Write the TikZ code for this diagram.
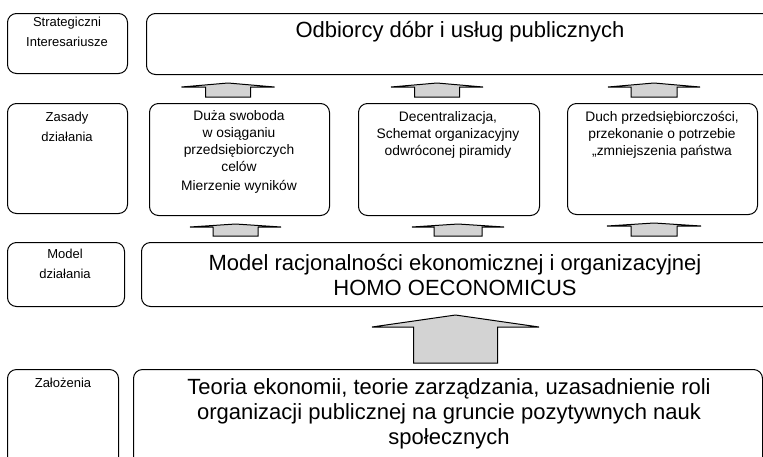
\documentclass[tikz,border=0pt]{standalone}
\usepackage{fontspec}
\setmainfont{Liberation Sans}
\usetikzlibrary{calc,positioning}
\definecolor{arrowgray}{RGB}{211,211,211}

\tikzset{
  box/.style={draw, rounded corners=9pt, line width=1pt, anchor=north west, inner sep=0pt},
  labtxt/.style={align=center, font=\fontsize{13}{20}\selectfont, inner sep=0pt},
  rowtxt/.style={align=center, font=\fontsize{13.8}{17}\selectfont, inner sep=0pt},
  bigtxt/.style={align=center, font=\fontsize{22}{25}\selectfont, inner sep=0pt},
  blockarr/.style={draw, fill=arrowgray, line width=1pt, line join=miter},
}

% block arrow from lower box up to upper box: lower, upper, x, half head, half shaft, head depth
\newcommand\upblock[6]{%
  \draw[blockarr] let \p1=(#1.north), \p2=(#2.south) in
    ({#3pt-#5pt},{\y1+6pt}) -- ({#3pt-#5pt},{\y2-8pt-#6pt}) -- ({#3pt-#4pt},{\y2-8pt-#6pt})
    -- ({#3pt},{\y2-8pt}) -- ({#3pt+#4pt},{\y2-8pt-#6pt}) -- ({#3pt+#5pt},{\y2-8pt-#6pt})
    -- ({#3pt+#5pt},{\y1+6pt}) -- cycle;
}

\begin{document}
\begin{tikzpicture}[x=1pt, y=-1pt]
  \useasboundingbox (0,0) rectangle (763,456);

  % left column
  \node[box, minimum width=120pt, minimum height=60pt] (strat) at (7,13) {};
  \node[box, minimum width=120pt, minimum height=110pt] (zasady) at (7,103) {};
  \node[box, minimum width=117pt, minimum height=64pt] (modelLab) at (7,242) {};
  \node[box, minimum width=111pt, minimum height=100pt] (zalozenia) at (7,369) {};

  \node[labtxt] (stratTxt) at (67,32) {Strategiczni\\Interesariusze};
  \node[labtxt] (zasadyTxt) at (67,127) {Zasady\\działania};
  \node[labtxt] (modelLabTxt) at (65,264) {Model\\działania};
  \node[labtxt] (zalozeniaTxt) at (63,383) {Założenia};

  % main column
  \node[box, minimum width=630pt, minimum height=61pt] (odb) at (146,13) {};
  \node[box, minimum width=180pt, minimum height=112pt] (swoboda) at (149,103) {};
  \node[box, minimum width=181pt, minimum height=112pt] (decentr) at (358,103) {};
  \node[box, minimum width=190pt, minimum height=111pt] (duch) at (567,103) {};
  \node[box, minimum width=630pt, minimum height=64pt] (model) at (141,242) {};
  \node[box, minimum width=629pt, minimum height=100pt] (teoria) at (133,369) {};

  \node[bigtxt] (odbTxt) at (460,32) {Odbiorcy dóbr i usług publicznych};
  \node[rowtxt] (swobodaTxt) at (239,152) {Duża swoboda\\w osiąganiu\\przedsiębiorczych\\celów\\[2pt]Mierzenie wyników};
  \node[rowtxt] (decentrTxt) at (448,134.5) {Decentralizacja,\\Schemat organizacyjny\\odwróconej piramidy};
  \node[rowtxt] (duchTxt) at (662,134.5) {Duch przedsiębiorczości,\\przekonanie o potrzebie\\„zmniejszenia państwa};
  \node[bigtxt] (modelTxt) at (455,275) {Model racjonalności ekonomicznej i organizacyjnej\\HOMO OECONOMICUS};
  \node[bigtxt] (teoriaTxt) at (449,414) {Teoria ekonomii, teorie zarządzania, uzasadnienie roli\\organizacji publicznej na gruncie pozytywnych nauk\\społecznych};

  % arrows
  \upblock{swoboda}{odb}{228}{46.5}{22.5}{4}
  \upblock{decentr}{odb}{437}{46}{22.5}{4}
  \upblock{duch}{odb}{654}{46}{23}{4}
  \upblock{model}{swoboda}{235.5}{45.5}{22.5}{3}
  \upblock{model}{decentr}{458}{46}{24}{3}
  \upblock{model}{duch}{654}{47}{23}{3}
  \upblock{teoria}{model}{455.5}{83.5}{42}{12}
\end{tikzpicture}
\end{document}
